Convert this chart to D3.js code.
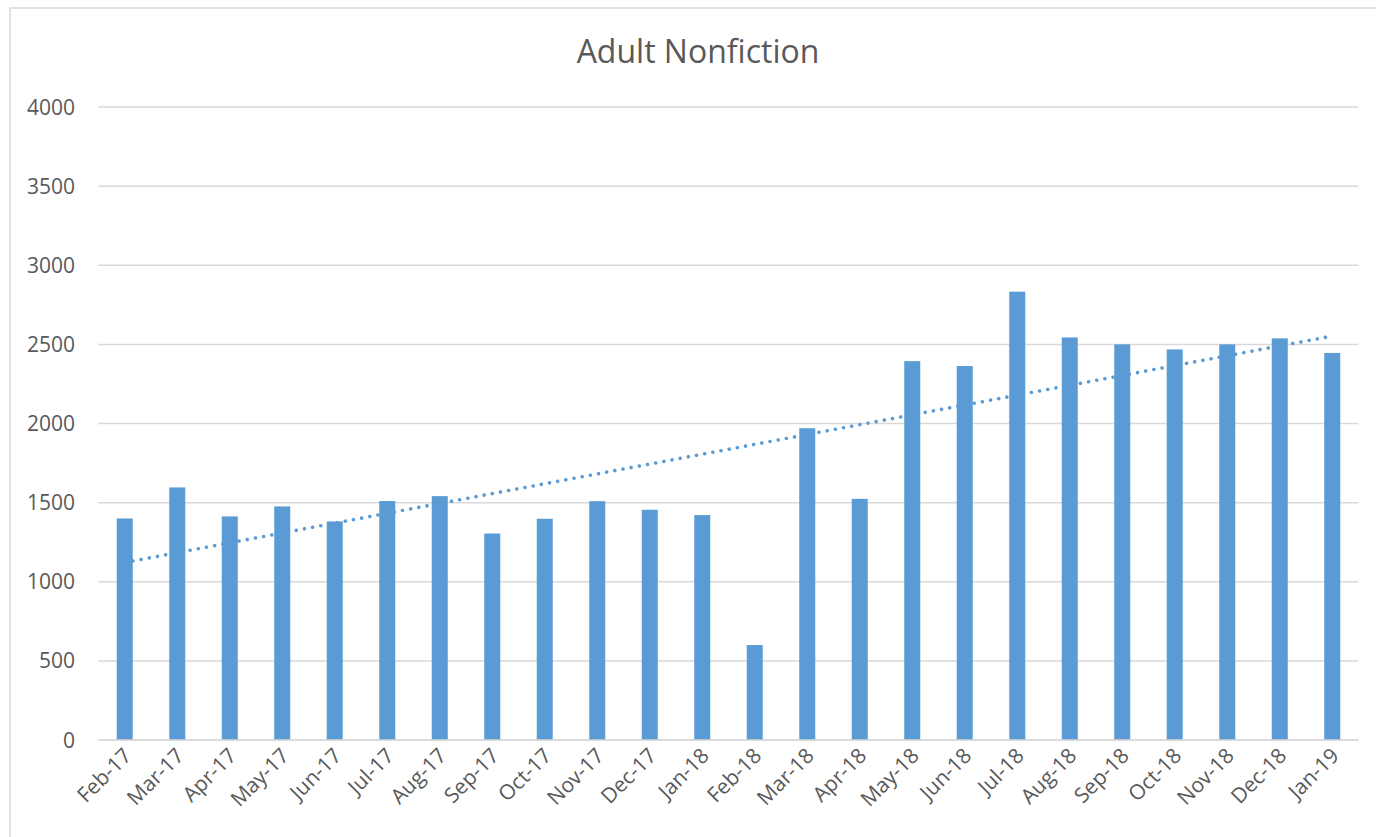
<!DOCTYPE html>
<html>
<head>
<meta charset="utf-8">
<script src="https://cdn.jsdelivr.net/npm/d3@7"></script>
<style>
  body { margin: 0; background: #fff; }
  svg { display: block; font-family: "Open Sans", sans-serif; }
</style>
</head>
<body>
<svg id="chart" width="1376" height="837"></svg>
<script>
// monthly counts, Feb 2017 .. Jan 2019
var months = ["Feb-17", "Mar-17", "Apr-17", "May-17", "Jun-17", "Jul-17", "Aug-17", "Sep-17",
  "Oct-17", "Nov-17", "Dec-17", "Jan-18", "Feb-18", "Mar-18", "Apr-18", "May-18",
  "Jun-18", "Jul-18", "Aug-18", "Sep-18", "Oct-18", "Nov-18", "Dec-18", "Jan-19"];
var counts = [1400, 1596, 1413, 1476, 1381, 1510, 1541, 1305,
  1398, 1509, 1455, 1421, 600, 1970, 1524, 2394,
  2363, 2833, 2544, 2500, 2468, 2500, 2538, 2446];
var yTicks = [0, 500, 1000, 1500, 2000, 2500, 3000, 3500, 4000];

var svg = d3.select("#chart");
var plotLeft = 98.5, plotRight = 1358.5, plotTop = 107, plotBottom = 740;

// chart area border (only left and top show in the frame)
svg.append("rect")
  .attr("x", 10).attr("y", 8)
  .attr("width", 1400).attr("height", 900)
  .attr("fill", "none")
  .attr("stroke", "#d9d9d9")
  .attr("stroke-width", 1.5);

var x = d3.scaleBand().domain(months).range([plotLeft, plotRight]).paddingInner(0.695).paddingOuter(0.3475);
var y = d3.scaleLinear().domain([0, 4000]).range([plotBottom, plotTop]);

// gridlines
svg.append("g").selectAll("line")
  .data(yTicks)
  .enter()
  .append("line")
    .attr("x1", plotLeft).attr("x2", plotRight)
    .attr("y1", function(d) { return y(d); })
    .attr("y2", function(d) { return y(d); })
    .attr("stroke", "#d9d9d9")
    .attr("stroke-width", 1.5);

// y labels
svg.append("g").selectAll("text")
  .data(yTicks)
  .enter()
  .append("text")
    .attr("x", 75)
    .attr("y", function(d) { return y(d); })
    .attr("dy", "0.36em")
    .attr("text-anchor", "end")
    .style("font-size", "21px")
    .style("fill", "#595959")
    .text(function(d) { return d; });

// bars
svg.append("g").selectAll("rect")
  .data(counts)
  .enter()
  .append("rect")
    .attr("x", function(d, i) { return x(months[i]); })
    .attr("y", function(d) { return y(d); })
    .attr("width", x.bandwidth())
    .attr("height", function(d) { return y(0) - y(d); })
    .attr("fill", "#5b9bd5");

// axis line
svg.append("line")
  .attr("x1", plotLeft).attr("x2", plotRight)
  .attr("y1", y(0)).attr("y2", y(0))
  .attr("stroke", "#d9d9d9")
  .attr("stroke-width", 1.5);

// linear trendline (least squares over month index)
var n = counts.length;
var mx = d3.mean(counts, function(d, i) { return i; });
var my = d3.mean(counts);
var sxy = d3.sum(counts, function(d, i) { return (i - mx) * (d - my); });
var sxx = d3.sum(counts, function(d, i) { return (i - mx) * (i - mx); });
var slope = sxy / sxx;
var icpt = my - slope * mx;
var cx = function(i) { return x(months[i]) + x.bandwidth() / 2; };

svg.append("line")
  .attr("x1", cx(0)).attr("y1", y(icpt))
  .attr("x2", cx(n - 1)).attr("y2", y(icpt + slope * (n - 1)))
  .attr("stroke", "#5b9bd5")
  .attr("stroke-width", 3.6)
  .attr("stroke-linecap", "round")
  .attr("stroke-dasharray", "0.01 8.3");

// x labels
svg.append("g").selectAll("text")
  .data(months)
  .enter()
  .append("text")
    .attr("transform", function(d, i) { return "translate(" + (cx(i) + 8) + ",757) rotate(-45)"; })
    .attr("text-anchor", "end")
    .style("font-size", "21px")
    .style("fill", "#595959")
    .text(function(d) { return d; });

// title
svg.append("text")
  .attr("x", 698)
  .attr("y", 63)
  .attr("text-anchor", "middle")
  .style("font-size", "32px")
  .style("fill", "#595959")
  .text("Adult Nonfiction");
</script>
</body>
</html>
